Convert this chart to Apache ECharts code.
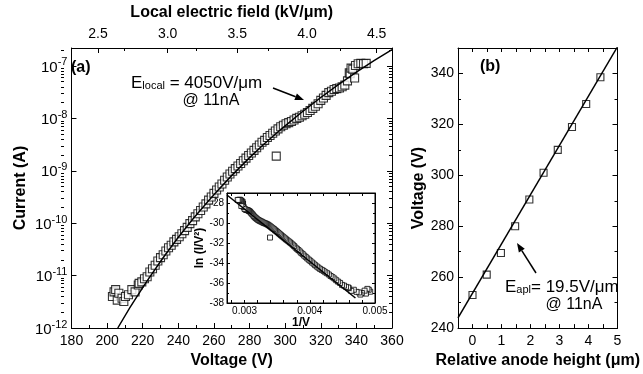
<!DOCTYPE html>
<html>
<head>
<meta charset="utf-8">
<script src="https://cdn.jsdelivr.net/npm/echarts@6/dist/echarts.min.js"></script>
<style>
  html, body { margin: 0; padding: 0; background: #fff; }
  #chart { width: 643px; height: 374px; }
</style>
</head>
<body>
<div id="chart"></div>
<script>
// (a) current vs voltage
const voltage = [203, 203.9, 204.8, 205.7, 206.6, 208.4, 209.4, 210.3, 212, 213.9, 215.7, 217.5,
  218, 219.5, 221, 222.5, 224, 225.5, 227, 228.5, 230, 231.5, 233, 234.5, 236, 237.5, 239, 240.5,
  242, 243.5, 245, 246.5, 248, 249.5, 251, 252.5, 254, 255.5, 257, 258.5, 260, 261.5, 263, 264.5,
  266, 267.5, 269, 270.5, 272, 273.5, 275, 276.5, 278, 279.5, 281, 282.5, 284, 285.5, 287, 288.5,
  290, 291.5, 293, 294.5, 296, 297.5, 299, 300.5, 302, 303.5, 305, 306.5, 308, 309.5, 311, 312.5,
  314, 315.5, 317, 318.5, 320, 321.5, 323, 324.5, 326, 327.5, 329, 330.5, 332, 333.5, 335, 336,
  336.5, 337, 338, 339, 339.5, 341, 342.5, 344, 345.5, 295]
const current = [4.0e-12, 4.9e-12, 5.4e-12, 3.4e-12, 4.6e-12, 3.7e-12, 3.2e-12, 4.0e-12, 4.3e-12, 5.4e-12, 4.9e-12, 6.6e-12,
  7.1e-12, 7.6e-12, 8.7e-12, 9.5e-12, 1.17e-11, 1.35e-11, 1.58e-11, 1.9e-11, 2.2e-11, 2.5e-11, 2.95e-11, 3.4e-11, 3.8e-11, 4.4e-11, 4.9e-11, 5.5e-11,
  6.3e-11, 7.2e-11, 8.3e-11, 9.8e-11, 1.12e-10, 1.32e-10, 1.51e-10, 1.74e-10, 2.04e-10, 2.34e-10, 2.75e-10, 3.16e-10, 3.7e-10, 4.3e-10, 4.9e-10, 5.6e-10,
  6.6e-10, 7.6e-10, 8.7e-10, 9.8e-10, 1.1e-9, 1.23e-9, 1.38e-9, 1.55e-9, 1.74e-9, 1.95e-9, 2.19e-9, 2.45e-9, 2.75e-9, 3.1e-9, 3.5e-9, 3.8e-9,
  4.3e-9, 4.7e-9, 5.2e-9, 5.75e-9, 6.3e-9, 6.9e-9, 7.4e-9, 7.9e-9, 8.3e-9, 8.7e-9, 9.3e-9, 1.0e-8, 1.05e-8, 1.12e-8, 1.2e-8, 1.29e-8,
  1.41e-8, 1.55e-8, 1.7e-8, 1.9e-8, 2.2e-8, 2.45e-8, 2.75e-8, 3.1e-8, 3.3e-8, 3.55e-8, 3.7e-8, 3.8e-8, 4.0e-8, 4.3e-8, 5.2e-8, 7.4e-8,
  7.1e-8, 9.1e-8, 8.7e-8, 5.9e-8, 1.02e-7, 1.1e-7, 1.12e-7, 1.1e-7, 1.12e-7, 1.9e-9]
const fitVoltage = [206, 220, 240, 260, 280, 300, 320, 340, 360]
const fitCurrent = [1.0e-12, 5.9e-12, 5.4e-11, 3.5e-10, 1.78e-9, 7.2e-9, 2.5e-8, 7.6e-8, 2.04e-7]

// inset: Fowler-Nordheim fit line
const fnFitX = [0.00273, 0.0047]
const fnFitY = [-27.2, -37.5]

// (b) voltage at 11nA vs relative anode height
const anodeHeight = [0, 0.49, 0.98, 1.47, 1.96, 2.45, 2.94, 3.43, 3.92, 4.41]
const anodeVoltage = [253, 261, 269.5, 280, 290.5, 301, 310, 319, 328, 338.5]
const anodeFitX = [-0.5, 5]
const anodeFitY = [244, 350.5]

// tick values
const decades = [-12, -11, -10, -9, -8, -7]
const fieldTicks = [2.5, 3.0, 3.5, 4.0, 4.5]
const fieldMinor = [2.75, 3.25, 3.75, 4.25]
const invTicks = [0.003, 0.004, 0.005]
const invMinor = [0.0028, 0.003, 0.0032, 0.0034, 0.0036, 0.0038, 0.004, 0.0042, 0.0044, 0.0046, 0.0048, 0.005]

const FONT = "'Liberation Sans', Arial, sans-serif"
const chart = echarts.init(document.getElementById('chart'))

const majorLog = decades.map(k => Math.pow(10, k))
const minorLog = []
decades.forEach(k => {
  for (let m = 2; m <= 9; m++) minorLog.push(m * Math.pow(10, k))
})

function baseAxis(extra) {
  return Object.assign({
    axisLine: { show: true, onZero: false, lineStyle: { color: '#000', width: 1 } },
    axisTick: { show: true, inside: true, length: 5, lineStyle: { color: '#000' } },
    axisLabel: { show: false, color: '#000', fontFamily: FONT, fontSize: 14 },
    splitLine: { show: false },
    nameTextStyle: { color: '#000', fontFamily: FONT, fontSize: 16, fontWeight: 'bold' }
  }, extra)
}

function arrow(x1, y1, x2, y2) {
  const a = Math.atan2(y2 - y1, x2 - x1), L = 9, W = 3.5
  const bx = x2 - L * Math.cos(a), by = y2 - L * Math.sin(a)
  return [
    { type: 'line', shape: { x1: x1, y1: y1, x2: bx, y2: by }, style: { stroke: '#000', lineWidth: 1.5 } },
    { type: 'polygon', shape: { points: [[x2, y2], [bx - W * Math.sin(a), by + W * Math.cos(a)], [bx + W * Math.sin(a), by - W * Math.cos(a)]] }, style: { fill: '#000' } }
  ]
}

const logRich = {
  b: { fontSize: 15, fontFamily: FONT, color: '#000', lineHeight: 18, verticalAlign: 'bottom' },
  s: { fontSize: 11, fontFamily: FONT, color: '#000', lineHeight: 18, verticalAlign: 'top' }
}
const subRich = { s: { fontSize: 11, verticalAlign: 'bottom', fontFamily: FONT, fill: '#000' } }

const option = {
  animation: false,
  grid: [
    { left: 61, top: 48, width: 331, height: 280 },
    { left: 227, top: 193, width: 148, height: 110, backgroundColor: '#fff', show: true, borderColor: '#000' },
    { left: 458, top: 48, width: 181, height: 281 },
    { left: 61, top: 48, width: 331, height: 280 }
  ],
  xAxis: [
    baseAxis({ gridIndex: 0, type: 'value', position: 'bottom', min: 180, max: 360, interval: 20,
      minorTick: { show: true, splitNumber: 2, length: 3, lineStyle: { color: '#000' } },
      axisLabel: { show: true, color: '#000', fontFamily: FONT, fontSize: 14, margin: 6 },
      name: 'Voltage (V)', nameLocation: 'middle', nameGap: 22 }),
    baseAxis({ gridIndex: 0, type: 'value', position: 'top', min: 2.31, max: 4.61,
      axisTick: { show: true, inside: true, length: 5, customValues: fieldTicks, lineStyle: { color: '#000' } },
      axisLabel: { show: true, color: '#000', fontFamily: FONT, fontSize: 14, margin: 7, customValues: fieldTicks,
        formatter: v => v.toFixed(1) },
      name: 'Local electric field (kV/μm)', nameLocation: 'middle', nameGap: 27 }),
    baseAxis({ gridIndex: 1, type: 'value', position: 'bottom', min: 0.00273, max: 0.005,
      axisTick: { show: true, inside: true, length: 3, customValues: invMinor, lineStyle: { color: '#000' } },
      axisLabel: { show: true, color: '#000', fontFamily: FONT, fontSize: 10, margin: 3, customValues: invTicks,
        formatter: v => v.toFixed(3) },
      name: '1/V', nameLocation: 'middle', nameGap: 12,
      nameTextStyle: { color: '#000', fontFamily: FONT, fontSize: 12, fontWeight: 'bold' } }),
    baseAxis({ gridIndex: 1, type: 'value', position: 'top', min: 0.00273, max: 0.005,
      axisTick: { show: true, inside: true, length: 3, customValues: invMinor, lineStyle: { color: '#000' } } }),
    baseAxis({ gridIndex: 2, type: 'value', position: 'bottom', min: -0.5, max: 5, interval: 0.5,
      axisTick: { show: true, inside: true, length: 4, lineStyle: { color: '#000' } },
      axisLabel: { show: true, color: '#000', fontFamily: FONT, fontSize: 14, margin: 6,
        formatter: v => (Number.isInteger(v) ? String(v) : '') },
      name: 'Relative anode height (μm)', nameLocation: 'middle', nameGap: 22 }),
    baseAxis({ gridIndex: 2, type: 'value', position: 'top', min: -0.5, max: 5, interval: 0.5,
      axisTick: { show: true, inside: true, length: 4, lineStyle: { color: '#000' } } }),
    baseAxis({ gridIndex: 3, type: 'value', position: 'top', min: 2.31, max: 4.61,
      axisLine: { show: false },
      axisTick: { show: true, inside: true, length: 3, customValues: fieldMinor, lineStyle: { color: '#000' } } })
  ],
  yAxis: [
    baseAxis({ gridIndex: 0, type: 'log', position: 'left', min: 1e-12, max: 2.2e-7,
      axisTick: { show: true, inside: true, length: 5, customValues: majorLog, lineStyle: { color: '#000' } },
      axisLabel: { show: true, color: '#000', fontFamily: FONT, fontSize: 15, margin: 4, customValues: majorLog,
        formatter: v => '{b|10}{s|' + Math.round(Math.log10(v)) + '}', rich: logRich },
      name: 'Current (A)', nameLocation: 'middle', nameGap: 43 }),
    baseAxis({ gridIndex: 0, type: 'log', position: 'right', min: 1e-12, max: 2.2e-7,
      axisTick: { show: true, inside: true, length: 5, customValues: majorLog, lineStyle: { color: '#000' } } }),
    baseAxis({ gridIndex: 1, type: 'value', position: 'left', min: -38, max: -27, interval: 2,
      minorTick: { show: true, splitNumber: 2, length: 2, lineStyle: { color: '#000' } },
      axisTick: { show: true, inside: true, length: 3, lineStyle: { color: '#000' } },
      axisLabel: { show: true, color: '#000', fontFamily: FONT, fontSize: 10, margin: 3, showMaxLabel: false },
      name: 'ln (I/V²)', nameLocation: 'middle', nameGap: 19,
      nameTextStyle: { color: '#000', fontFamily: FONT, fontSize: 12, fontWeight: 'bold' } }),
    baseAxis({ gridIndex: 1, type: 'value', position: 'right', min: -38, max: -27, interval: 2,
      minorTick: { show: true, splitNumber: 2, length: 2, lineStyle: { color: '#000' } },
      axisTick: { show: true, inside: true, length: 3, lineStyle: { color: '#000' } } }),
    baseAxis({ gridIndex: 2, type: 'value', position: 'left', min: 240, max: 350, interval: 20,
      minorTick: { show: true, splitNumber: 2, length: 3, lineStyle: { color: '#000' } },
      axisLabel: { show: true, color: '#000', fontFamily: FONT, fontSize: 14, margin: 4, showMaxLabel: false },
      name: 'Voltage (V)', nameLocation: 'middle', nameGap: 27 }),
    baseAxis({ gridIndex: 2, type: 'value', position: 'right', min: 240, max: 350, interval: 20,
      minorTick: { show: true, splitNumber: 2, length: 3, lineStyle: { color: '#000' } } }),
    baseAxis({ gridIndex: 3, type: 'log', position: 'left', min: 1e-12, max: 2.2e-7,
      axisLine: { show: false },
      axisTick: { show: true, inside: true, length: 3, customValues: minorLog, lineStyle: { color: '#000' } } }),
    baseAxis({ gridIndex: 3, type: 'log', position: 'right', min: 1e-12, max: 2.2e-7,
      axisLine: { show: false },
      axisTick: { show: true, inside: true, length: 3, customValues: minorLog, lineStyle: { color: '#000' } } })
  ],
  series: [
    {
      type: 'scatter', xAxisIndex: 0, yAxisIndex: 0, symbol: 'rect', symbolSize: 8,
      itemStyle: { color: '#fff', borderColor: '#000', borderWidth: 1.1 },
      data: voltage.map((v, i) => [v, current[i]])
    },
    {
      type: 'line', xAxisIndex: 0, yAxisIndex: 0, symbol: 'none', smooth: true,
      lineStyle: { color: '#000', width: 1.5 },
      data: fitVoltage.map((v, i) => [v, fitCurrent[i]])
    },
    {
      type: 'scatter', xAxisIndex: 2, yAxisIndex: 2, symbol: 'rect', symbolSize: 5,
      itemStyle: { color: '#fff', borderColor: '#000', borderWidth: 1 },
      data: voltage.map((v, i) => [1 / v, Math.log(current[i] / (v * v))])
    },
    {
      type: 'line', xAxisIndex: 2, yAxisIndex: 2, symbol: 'none',
      lineStyle: { color: '#000', width: 1.5 },
      data: fnFitX.map((x, i) => [x, fnFitY[i]])
    },
    {
      type: 'scatter', xAxisIndex: 4, yAxisIndex: 4, symbol: 'rect', symbolSize: 7,
      itemStyle: { color: '#fff', borderColor: '#000', borderWidth: 1.1 },
      data: anodeHeight.map((h, i) => [h, anodeVoltage[i]])
    },
    {
      type: 'line', xAxisIndex: 4, yAxisIndex: 4, symbol: 'none', clip: true,
      lineStyle: { color: '#000', width: 1.5 },
      data: anodeFitX.map((h, i) => [h, anodeFitY[i]])
    }
  ],
  graphic: [
    { type: 'text', x: 71, y: 68, style: { text: '(a)', font: 'bold 16px ' + FONT, fill: '#000', verticalAlign: 'middle' } },
    { type: 'text', x: 480, y: 67, style: { text: '(b)', font: 'bold 16px ' + FONT, fill: '#000', verticalAlign: 'middle' } },
    { type: 'text', x: 131, y: 83, style: { text: 'E{s|local} = 4050V/μm', font: '17px ' + FONT, fill: '#000', verticalAlign: 'middle', rich: subRich } },
    { type: 'text', x: 211, y: 101, style: { text: '@ 11nA', font: '16px ' + FONT, fill: '#000', align: 'center', verticalAlign: 'middle' } },
    { type: 'text', x: 505, y: 287, style: { text: 'E{s|apl}= 19.5V/μm', font: '17px ' + FONT, fill: '#000', verticalAlign: 'middle', rich: subRich } },
    { type: 'text', x: 574, y: 305, style: { text: '@ 11nA', font: '16px ' + FONT, fill: '#000', align: 'center', verticalAlign: 'middle' } }
  ].concat(arrow(273, 88, 304, 100), arrow(536, 273, 517, 243))
}

chart.setOption(option)
</script>
</body>
</html>
